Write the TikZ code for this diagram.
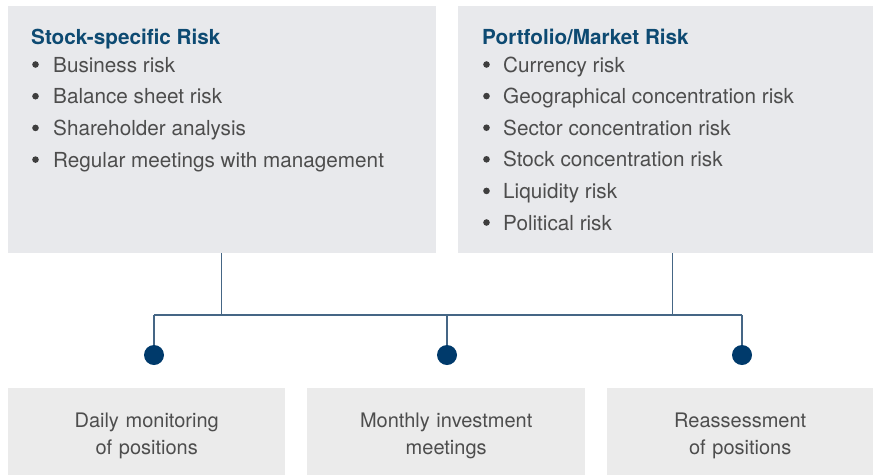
\documentclass[tikz,border=0pt]{standalone}
\usepackage{fontspec}
\setmainfont{TeX Gyre Heros}
\usepackage{tikz}

\definecolor{boxgray}{HTML}{E8E9EC}
\definecolor{botgray}{HTML}{EBEBEB}
\definecolor{titleblue}{HTML}{0D4A72}
\definecolor{dotblue}{HTML}{003A6B}
\definecolor{linkblue}{HTML}{456685}
\definecolor{txtgray}{HTML}{4D4D4D}

\begin{document}
\begin{tikzpicture}[x=1pt,y=-1pt,
  topbox/.style={fill=boxgray, anchor=north west, inner sep=0pt},
  botbox/.style={fill=botgray, anchor=north west, inner sep=0pt, minimum height=87pt,
    align=center, text=txtgray, font=\fontsize{20}{27}\selectfont,
    execute at begin node=\rule{0pt}{22pt}},
  head/.style={anchor=base west, inner sep=0pt, text=titleblue, font=\fontsize{20.7}{24}\selectfont\bfseries},
  entry/.style={anchor=base west, inner sep=0pt, text=txtgray, font=\fontsize{20.7}{24}\selectfont},
  dot/.style={circle, fill=dotblue, minimum size=20pt, inner sep=0pt},
  link/.style={draw=linkblue, line width=1.2pt}]
 \useasboundingbox (0,0) rectangle (873,475);

 \node[topbox, minimum width=428pt, minimum height=247pt] (stock) at (8,6) {};
 \node[topbox, minimum width=415pt, minimum height=247pt] (market) at (458,6) {};

 \node[head] (stockhead) at (31,44) {Stock-specific Risk};
 \foreach \t [count=\i] in {Business risk, Balance sheet risk, Shareholder analysis,
   Regular meetings with management}{
   \fill[txtgray!80!black] (35.5, 40.3+31.7*\i-7.5) circle (3.3);
   \node[entry] (stock\i) at (53, 40.3+31.7*\i) {\t};
 }

 \node[head] (markethead) at (482,44) {Portfolio/Market Risk};
 \foreach \t [count=\i] in {Currency risk, Geographical concentration risk,
   Sector concentration risk, Stock concentration risk, Liquidity risk, Political risk}{
   \fill[txtgray!80!black] (486.5, 40.4+31.6*\i-7.5) circle (3.3);
   \node[entry] (market\i) at (503, 40.4+31.6*\i) {\t};
 }

 \coordinate (bus) at (447,315);
 \node[dot] (d1) at (154,355) {};
 \node[dot] (d2) at (447,355) {};
 \node[dot] (d3) at (742,355) {};

 \draw[link] ([xshift=-1pt]stock.south) -- ([xshift=-1pt]stock.south |- bus);
 \draw[link] ([xshift=7pt]market.south) -- ([xshift=7pt]market.south |- bus);
 \draw[link] (d1.center |- bus) -- (d3.center |- bus);
 \foreach \d in {d1,d2,d3}
   \draw[link] (\d.center |- bus) -- (\d);

 \node[botbox, text width=277pt] (daily) at (8,388) {Daily monitoring\\of positions};
 \node[botbox, text width=278pt] (monthly) at (307,388) {Monthly investment\\meetings};
 \node[botbox, text width=266pt] (reassess) at (607,388) {Reassessment\\of positions};
\end{tikzpicture}
\end{document}
